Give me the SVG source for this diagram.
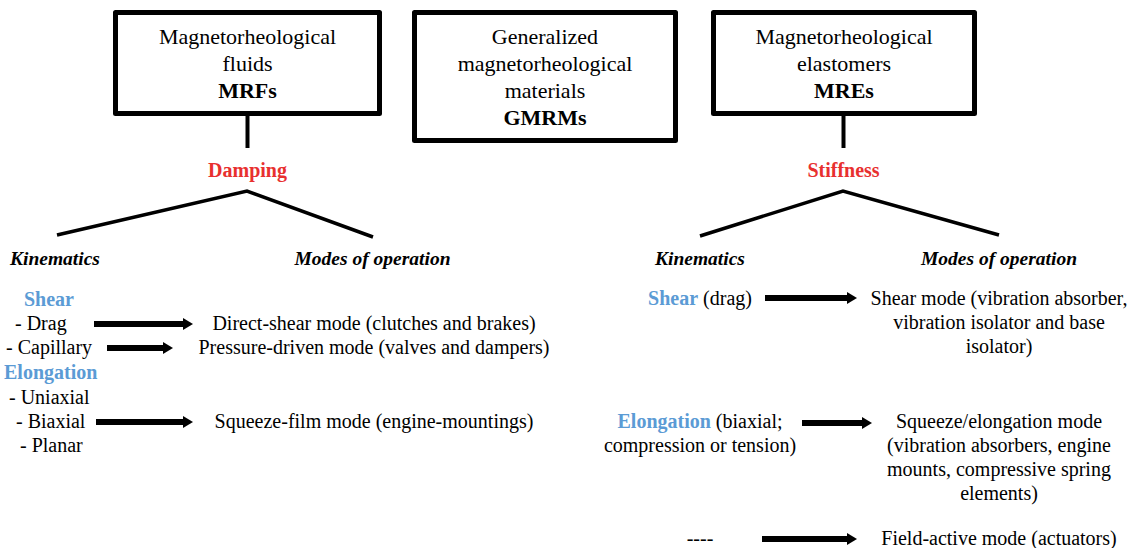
<svg xmlns="http://www.w3.org/2000/svg" width="1127" height="548" viewBox="0 0 1127 548" font-family="'Liberation Serif', 'Times New Roman', 'DejaVu Serif', serif">
<defs>
<style>
text{font-family:'Liberation Serif','Times New Roman','DejaVu Serif',serif;fill:#000}
.box{fill:#fff;stroke:#000;stroke-width:5;stroke-linejoin:round}
.bt{font-size:22px;text-anchor:middle}
.b{font-weight:bold}
.t{font-size:20px}
.c{text-anchor:middle}
.red{font-size:20px;font-weight:bold;fill:#E8302F;text-anchor:middle}
.blue{font-weight:bold;fill:#5B9BD5}
.hd{font-size:19.5px;font-weight:bold;font-style:italic}
.stem{stroke:#000;stroke-width:4}
.tree{fill:none;stroke:#000;stroke-width:3.5;stroke-linejoin:miter}
.arr{stroke:#000;stroke-width:6;marker-end:url(#ah)}
</style>
<marker id="ah" markerUnits="userSpaceOnUse" markerWidth="10" markerHeight="12" refX="0" refY="6" orient="auto">
<path d="M0,0 L10,6 L0,12 z" fill="#000"/>
</marker>
</defs>
<rect width="1127" height="548" fill="#fff"/>

<g id="mrf">
<rect class="box" x="115.5" y="12.5" width="264" height="101"/>
<text class="bt" x="247.5" y="44">Magnetorheological</text>
<text class="bt" x="247.5" y="71">fluids</text>
<text class="bt b" x="247.5" y="98">MRFs</text>
</g>
<g id="gmrm">
<rect class="box" x="414.5" y="12.5" width="261" height="128"/>
<text class="bt" x="545" y="44">Generalized</text>
<text class="bt" x="545" y="71">magnetorheological</text>
<text class="bt" x="545" y="98">materials</text>
<text class="bt b" x="545" y="125">GMRMs</text>
</g>
<g id="mre">
<rect class="box" x="713.5" y="12.5" width="261" height="101"/>
<text class="bt" x="844" y="44">Magnetorheological</text>
<text class="bt" x="844" y="71">elastomers</text>
<text class="bt b" x="844" y="98">MREs</text>
</g>

<g id="damping"><text class="red" x="247.5" y="177">Damping</text></g>
<g id="stiffness"><text class="red" x="843.5" y="177">Stiffness</text></g>

<g id="left-kinematics">
<text class="hd" x="10" y="265">Kinematics</text>
<text class="t blue" x="49" y="306" text-anchor="middle">Shear</text>
<text class="t" x="15" y="330">- Drag</text>
<text class="t" x="6" y="354">- Capillary</text>
<text class="t blue" x="4" y="379">Elongation</text>
<text class="t" x="9" y="404">- Uniaxial</text>
<text class="t" x="16" y="428">- Biaxial</text>
<text class="t" x="20" y="452">- Planar</text>
</g>
<g id="left-modes">
<text class="hd c" x="372.5" y="265">Modes of operation</text>
<text class="t c" x="374" y="330">Direct-shear mode (clutches and brakes)</text>
<text class="t c" x="374" y="354">Pressure-driven mode (valves and dampers)</text>
<text class="t c" x="374" y="428">Squeeze-film mode (engine-mountings)</text>
</g>

<g id="right-kinematics">
<text class="hd c" x="700" y="265">Kinematics</text>
<text class="t c" x="700" y="305"><tspan class="blue">Shear</tspan> (drag)</text>
<text class="t c" x="700" y="428"><tspan class="blue">Elongation</tspan> (biaxial;</text>
<text class="t c" x="700" y="452">compression or tension)</text>
<text class="t c" x="700" y="545">----</text>
</g>
<g id="right-modes">
<text class="hd c" x="999" y="265">Modes of operation</text>
<text class="t c" x="999" y="305">Shear mode (vibration absorber,</text>
<text class="t c" x="999" y="329">vibration isolator and base</text>
<text class="t c" x="999" y="353">isolator)</text>
<text class="t c" x="999" y="428">Squeeze/elongation mode</text>
<text class="t c" x="999" y="452">(vibration absorbers, engine</text>
<text class="t c" x="999" y="476">mounts, compressive spring</text>
<text class="t c" x="999" y="500">elements)</text>
<text class="t c" x="999" y="545">Field-active mode (actuators)</text>
</g>

<g id="connectors">
<line class="stem" x1="247.5" y1="114" x2="247.5" y2="148"/>
<line class="stem" x1="843.5" y1="114" x2="843.5" y2="148"/>
<polyline class="tree" points="57,235 247,191 373,237"/>
<polyline class="tree" points="700,236 843,191 999,235"/>
<line class="arr" x1="94" y1="324" x2="183" y2="324"/>
<line class="arr" x1="107" y1="348" x2="163" y2="348"/>
<line class="arr" x1="96" y1="422" x2="183" y2="422"/>
<line class="arr" x1="765" y1="298" x2="847" y2="298"/>
<line class="arr" x1="802" y1="423" x2="862" y2="423"/>
<line class="arr" x1="762" y1="539" x2="847" y2="539"/>
</g>
</svg>
